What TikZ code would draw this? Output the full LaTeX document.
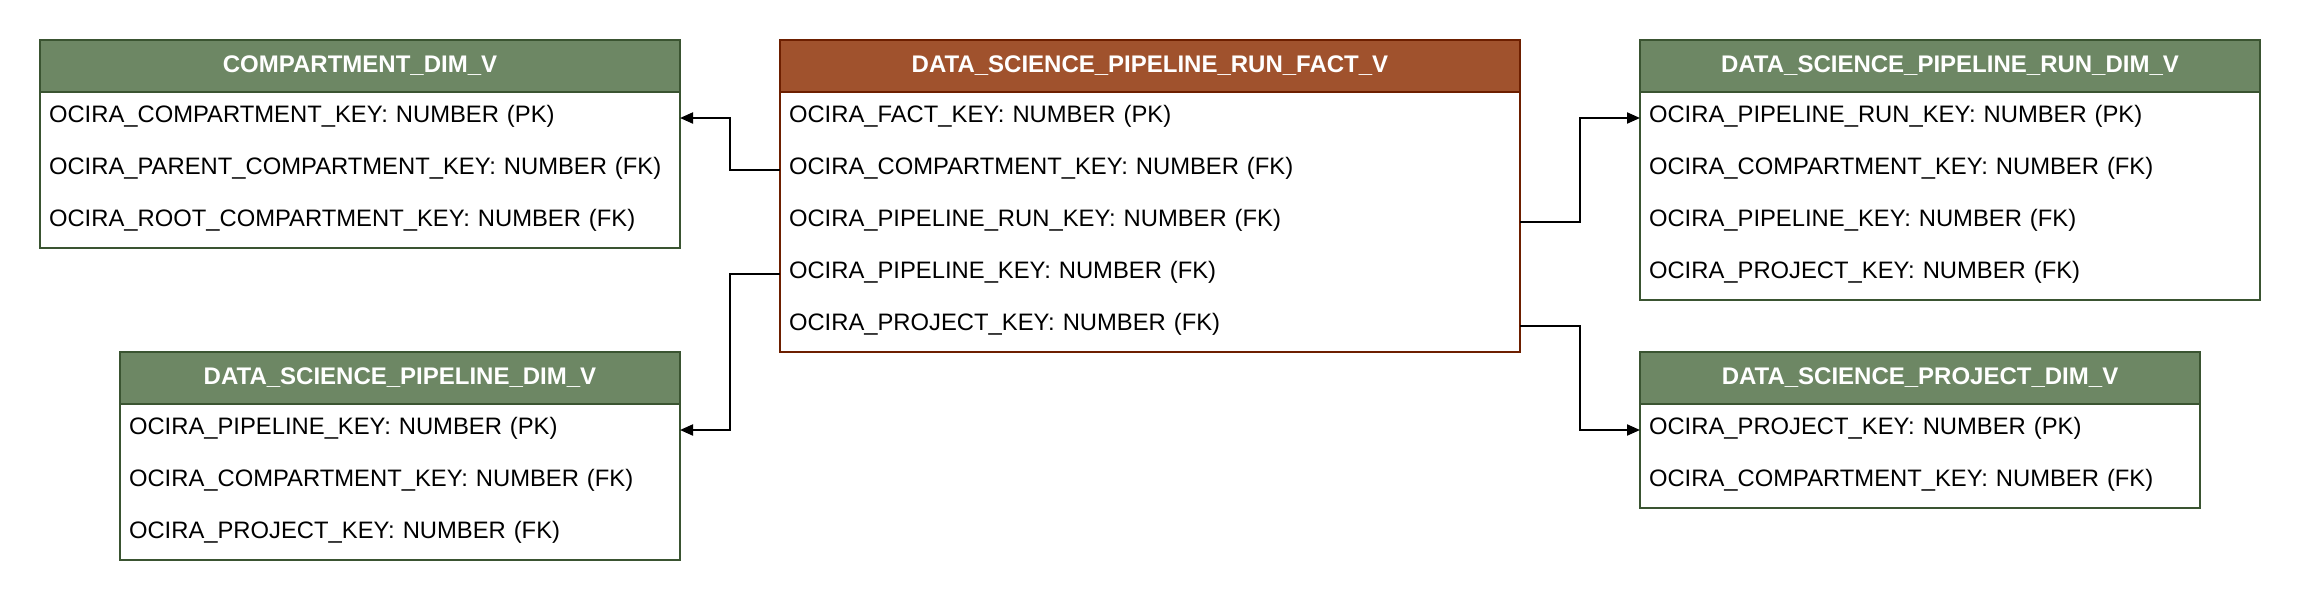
\documentclass[tikz,border=0pt]{standalone}
\usepackage{fontspec}
\setmainfont{Liberation Sans}
\usetikzlibrary{arrows.meta,positioning}
\definecolor{gfill}{HTML}{6D8764}
\definecolor{gline}{HTML}{3A5431}
\definecolor{bfill}{HTML}{A0522D}
\definecolor{bline}{HTML}{6D1F00}
\tikzset{
  tblhead/.style={anchor=north west, minimum height=52pt, inner sep=0pt, outer sep=0pt, line width=2pt,
    font=\fontsize{24pt}{28pt}\selectfont\bfseries, text=white},
  ghead/.style={tblhead, fill=gfill, draw=gline},
  bhead/.style={tblhead, fill=bfill, draw=bline},
  tblrow/.style={anchor=north, minimum height=52pt, inner ysep=0pt, inner xsep=9pt, outer sep=0pt,
    text width=#1, align=left, text height=17pt, text depth=8pt,
    font=\fontsize{23.8pt}{28pt}\selectfont},
  gframe/.style={draw=gline, line width=2pt},
  bframe/.style={draw=bline, line width=2pt},
  conn/.style={draw=black, line width=2pt, -{Triangle[length=13pt,width=11pt]}}
}
\begin{document}
\begin{tikzpicture}[x=1pt,y=-1pt]
\useasboundingbox (0,0) rectangle (2300,600);
\fill[white] (0,0) rectangle (2300,600);

% COMPARTMENT_DIM_V
\node[ghead, minimum width=640pt] (cH) at (40,40) {COMPARTMENT\_DIM\_V};
\node[tblrow=622pt] (c1) at (cH.south) {OCIRA\_COMPARTMENT\_KEY: NUMBER (PK)};
\node[tblrow=622pt] (c2) at (c1.south) {OCIRA\_PARENT\_COMPARTMENT\_KEY: NUMBER (FK)};
\node[tblrow=622pt] (c3) at (c2.south) {OCIRA\_ROOT\_COMPARTMENT\_KEY: NUMBER (FK)};
\draw[gframe] (cH.north west) rectangle (c3.south east);
\node[ghead, minimum width=640pt] at (40,40) {COMPARTMENT\_DIM\_V};

% DATA_SCIENCE_PIPELINE_RUN_FACT_V
\node[bhead, minimum width=740pt] (fH) at (780,40) {DATA\_SCIENCE\_PIPELINE\_RUN\_FACT\_V};
\node[tblrow=722pt] (f1) at (fH.south) {OCIRA\_FACT\_KEY: NUMBER (PK)};
\node[tblrow=722pt] (f2) at (f1.south) {OCIRA\_COMPARTMENT\_KEY: NUMBER (FK)};
\node[tblrow=722pt] (f3) at (f2.south) {OCIRA\_PIPELINE\_RUN\_KEY: NUMBER (FK)};
\node[tblrow=722pt] (f4) at (f3.south) {OCIRA\_PIPELINE\_KEY: NUMBER (FK)};
\node[tblrow=722pt] (f5) at (f4.south) {OCIRA\_PROJECT\_KEY: NUMBER (FK)};
\draw[bframe] (fH.north west) rectangle (f5.south east);
\node[bhead, minimum width=740pt] at (780,40) {DATA\_SCIENCE\_PIPELINE\_RUN\_FACT\_V};

% DATA_SCIENCE_PIPELINE_DIM_V
\node[ghead, minimum width=560pt] (pH) at (120,352) {DATA\_SCIENCE\_PIPELINE\_DIM\_V};
\node[tblrow=542pt] (p1) at (pH.south) {OCIRA\_PIPELINE\_KEY: NUMBER (PK)};
\node[tblrow=542pt] (p2) at (p1.south) {OCIRA\_COMPARTMENT\_KEY: NUMBER (FK)};
\node[tblrow=542pt] (p3) at (p2.south) {OCIRA\_PROJECT\_KEY: NUMBER (FK)};
\draw[gframe] (pH.north west) rectangle (p3.south east);
\node[ghead, minimum width=560pt] at (120,352) {DATA\_SCIENCE\_PIPELINE\_DIM\_V};

% DATA_SCIENCE_PIPELINE_RUN_DIM_V
\node[ghead, minimum width=620pt] (rH) at (1640,40) {DATA\_SCIENCE\_PIPELINE\_RUN\_DIM\_V};
\node[tblrow=602pt] (r1) at (rH.south) {OCIRA\_PIPELINE\_RUN\_KEY: NUMBER (PK)};
\node[tblrow=602pt] (r2) at (r1.south) {OCIRA\_COMPARTMENT\_KEY: NUMBER (FK)};
\node[tblrow=602pt] (r3) at (r2.south) {OCIRA\_PIPELINE\_KEY: NUMBER (FK)};
\node[tblrow=602pt] (r4) at (r3.south) {OCIRA\_PROJECT\_KEY: NUMBER (FK)};
\draw[gframe] (rH.north west) rectangle (r4.south east);
\node[ghead, minimum width=620pt] at (1640,40) {DATA\_SCIENCE\_PIPELINE\_RUN\_DIM\_V};

% DATA_SCIENCE_PROJECT_DIM_V
\node[ghead, minimum width=560pt] (jH) at (1640,352) {DATA\_SCIENCE\_PROJECT\_DIM\_V};
\node[tblrow=542pt] (j1) at (jH.south) {OCIRA\_PROJECT\_KEY: NUMBER (PK)};
\node[tblrow=542pt] (j2) at (j1.south) {OCIRA\_COMPARTMENT\_KEY: NUMBER (FK)};
\draw[gframe] (jH.north west) rectangle (j2.south east);
\node[ghead, minimum width=560pt] at (1640,352) {DATA\_SCIENCE\_PROJECT\_DIM\_V};

% connectors
\draw[conn] (f2.west) -- ++(-50,0) |- (c1.east);
\draw[conn] (f4.west) -- ++(-50,0) |- (p1.east);
\draw[conn] (f3.east) -- ++(60,0) |- (r1.west);
\draw[conn] (f5.east) -- ++(60,0) |- (j1.west);
\end{tikzpicture}
\end{document}
